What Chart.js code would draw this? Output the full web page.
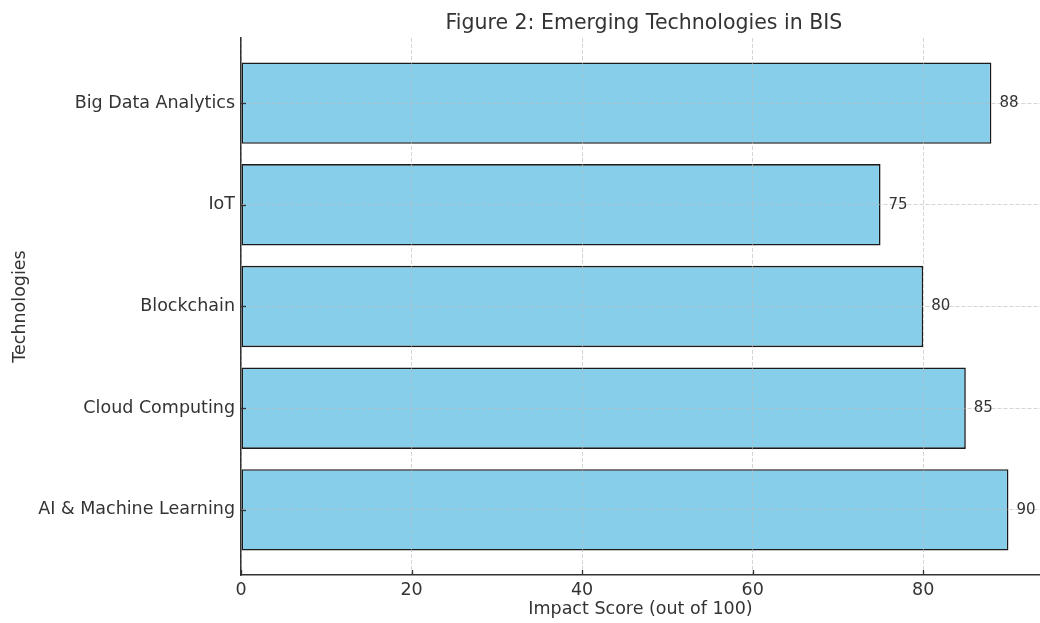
<!DOCTYPE html>
<html>
<head>
<meta charset="utf-8">
<script src="https://cdn.jsdelivr.net/npm/chart.js@4/dist/chart.umd.min.js"></script>
<style>
  body { margin: 0; background: #fff; }
  canvas { display: block; }
</style>
</head>
<body>
<canvas id="myChart" width="1040" height="623"></canvas>
<script>
"use strict";

// bottom to top, like the original axis
const categories = ["AI & Machine Learning", "Cloud Computing", "Blockchain", "IoT", "Big Data Analytics"];
const scores = [90, 85, 80, 75, 88];
const xTicks = [0, 20, 40, 60, 80];

const titleText = "Figure 2: Emerging Technologies in BIS";
const textColor = "#333333";
const fontFamily = "'DejaVu Sans', sans-serif";

// title, centred over the plot
const titlePlugin = {
  id: "plotTitle",
  afterDraw(chart) {
    const ctx = chart.ctx;
    const x = chart.scales.x;
    ctx.save();
    ctx.font = "20.5px " + fontFamily;
    ctx.fillStyle = textColor;
    ctx.textAlign = "center";
    ctx.textBaseline = "alphabetic";
    ctx.fillText(titleText, x.getPixelForValue(47.25), 29);
    ctx.restore();
  },
};

// ticks pointing into the plot + value labels at bar ends
const marksPlugin = {
  id: "marks",
  afterDraw(chart) {
    const ctx = chart.ctx;
    const xs = chart.scales.x;
    const ys = chart.scales.y;
    ctx.save();
    ctx.strokeStyle = textColor;
    ctx.lineWidth = 1.3;
    xs.ticks.forEach((t, i) => {
      const px = Math.round(xs.getPixelForTick(i)) + 0.5;
      ctx.beginPath();
      ctx.moveTo(px, xs.top);
      ctx.lineTo(px, xs.top - 5);
      ctx.stroke();
    });
    ys.ticks.forEach((t, i) => {
      const py = Math.round(ys.getPixelForTick(i)) + 0.5;
      ctx.beginPath();
      ctx.moveTo(ys.right, py);
      ctx.lineTo(ys.right + 5, py);
      ctx.stroke();
    });

    ctx.font = "15px " + fontFamily;
    ctx.fillStyle = textColor;
    ctx.textAlign = "left";
    ctx.textBaseline = "middle";
    chart.getDatasetMeta(0).data.forEach((bar, i) => {
      ctx.fillText(String(scores[i]), bar.x + 8, bar.y);
    });
    ctx.restore();
  },
};

const gridColor = "rgba(185, 185, 185, 0.6)";

const config = {
  type: "bar",
  data: {
    datasets: [
      {
        label: "Impact Score",
        data: scores.map((v, i) => ({ x: v, y: i })),
        backgroundColor: "#87CEEB",
        borderColor: "#1a1a1a",
        borderWidth: 1.6,
        borderSkipped: false,
        categoryPercentage: 1,
        barPercentage: 0.8,
      },
    ],
  },
  options: {
    indexAxis: "y",
    responsive: false,
    animation: false,
    layout: { padding: { top: 38, left: 0, right: 0, bottom: 0 } },
    plugins: {
      legend: { display: false },
      tooltip: { enabled: false },
      title: { display: false },
    },
    scales: {
      x: {
        type: "linear",
        position: "bottom",
        min: 0,
        max: 93.7,
        afterBuildTicks: (s) => {
          s.ticks = xTicks.map((v) => ({ value: v }));
        },
        afterFit: (s) => {
          s.height = 48;
        },
        grid: { color: gridColor, lineWidth: 1, drawTicks: false, z: 1 },
        border: { display: true, color: textColor, width: 1.5, dash: [4, 2], z: 2 },
        ticks: {
          color: textColor,
          padding: 5,
          maxRotation: 0,
          font: { family: fontFamily, size: 17.5 },
        },
        title: {
          display: true,
          text: "Impact Score (out of 100)",
          color: textColor,
          padding: { top: 0, bottom: 3.5 },
          font: { family: fontFamily, size: 17.5 },
        },
      },
      y: {
        type: "linear",
        position: "left",
        min: -0.64,
        max: 4.64,
        offset: false,
        afterBuildTicks: (s) => {
          s.ticks = categories.map((c, i) => ({ value: i }));
        },
        afterFit: (s) => {
          s.width = 241;
        },
        grid: { color: gridColor, lineWidth: 1, drawTicks: false, offset: false, z: 1 },
        border: { display: true, color: textColor, width: 1.5, dash: [4, 2], z: 2 },
        ticks: {
          color: textColor,
          padding: 6,
          font: { family: fontFamily, size: 17.5 },
          callback: (v) => categories[v],
        },
        title: {
          display: true,
          text: "Technologies",
          color: textColor,
          padding: { top: 9.5, bottom: 0 },
          font: { family: fontFamily, size: 17.5 },
        },
      },
    },
  },
  plugins: [titlePlugin, marksPlugin],
};

const canvasChart = document.getElementById("myChart");
new Chart(canvasChart, config);
</script>
</body>
</html>
